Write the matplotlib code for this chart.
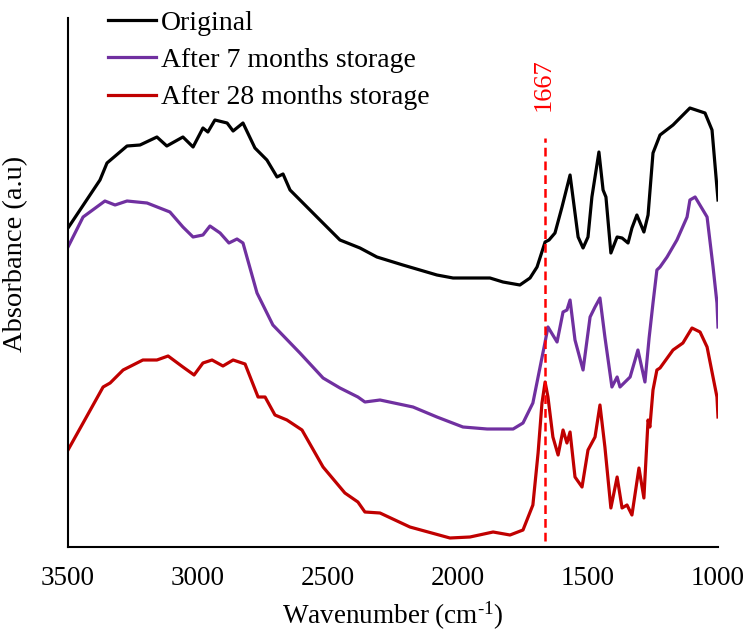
import matplotlib
matplotlib.use("Agg")
import matplotlib.pyplot as plt

plt.rcParams['font.family'] = ['Liberation Serif', 'DejaVu Serif']
plt.rcParams['mathtext.fontset'] = 'custom'
plt.rcParams['mathtext.rm'] = 'Liberation Serif'
plt.rcParams['mathtext.it'] = 'Liberation Serif:italic'

# Wavenumbers (cm-1) and absorbance (a.u.)
wn_orig = [3500,3377,3350,3273,3223,3158,3120,3058,3019,2981,2962,2935,2888,2865,2827,2781,2735,2696,2673,2646,
           2531,2454,2377,2312,2212,2081,2019,1877,1827,1762,1723,1696,1665,1650,1627,1600,1569,1558,1538,1519,
           1500,1485,1458,1442,1431,1412,1388,1369,1346,1331,1312,1285,1269,1250,1223,1173,1154,1108,1050,1023,1000]
abs_orig = [319,367,384,401,402,410,401,410,400,419,415,427,424,416,424,399,387,370,373,357,
            327,307,299,290,282,272,269,269,265,262,269,280,305,307,314,340,372,350,310,299,
            310,350,395,357,350,294,310,309,304,319,332,315,332,394,412,422,427,439,434,417,347]

wn_7m = [3500,3442,3358,3319,3273,3196,3108,3058,3019,2981,2954,2915,2881,2850,2827,2773,2712,2608,2519,2454,
         2385,2358,2300,2173,2081,1981,1888,1788,1750,1712,1665,1654,1619,1596,1581,1569,1550,1519,1492,1473,
         1454,1435,1408,1388,1377,1338,1319,1308,1281,1265,1250,1235,1223,1196,1158,1119,1108,1088,1042,1019,
         1004,1000]
abs_7m = [300,330,346,342,346,344,335,320,310,312,321,314,304,308,304,254,222,194,169,159,
          150,145,147,140,130,120,118,118,124,144,205,220,205,235,237,247,207,177,230,240,
          249,210,160,170,160,170,187,197,165,209,244,277,280,290,307,330,347,350,330,280,
          244,220]

wn_28m = [3500,3442,3365,3338,3288,3212,3158,3115,3058,3015,2981,2946,2904,2865,2819,2769,2742,2704,2658,2600,
          2519,2435,2385,2358,2300,2185,2031,1954,1865,1800,1750,1712,1692,1677,1665,1654,1635,1615,1596,1581,
          1569,1550,1523,1500,1473,1454,1435,1412,1388,1369,1350,1331,1304,1285,1269,1262,1250,1235,1223,1173,
          1135,1100,1069,1042,1004,1000]
abs_28m = [97,124,160,164,177,187,187,191,180,172,184,187,181,187,183,150,150,132,127,117,
           80,54,45,35,34,20,9,10,15,12,17,42,94,144,165,150,110,92,117,104,
           115,70,60,97,110,142,100,39,70,39,42,32,79,49,127,120,157,177,179,197,
           204,219,215,200,150,130]

labels = ['Original', 'After 7 months storage', 'After 28 months storage']
colors = ['#000000', '#7030A0', '#C00000']
marker_wn = 1667
marker_label = '1667'
xticks = [3500, 3000, 2500, 2000, 1500, 1000]

fig = plt.figure(figsize=(7.47, 6.34), dpi=100)
ax = fig.add_axes([68/747, 1-547/634, 650/747, 529/634])

for wn, a, lab, c in zip([wn_orig, wn_7m, wn_28m], [abs_orig, abs_7m, abs_28m], labels, colors):
    ax.plot(wn, a, color=c, lw=2.3, label=lab, solid_joinstyle='round')

ax.vlines(marker_wn, 6, 409, colors='#FF0000', linestyles=(0, (3.5, 2)), lw=1.8)
ax.text(marker_wn + 4, 436, marker_label, color='#FF0000', rotation=90, ha='center', va='bottom', fontsize=19)

ax.set_xlim(3500, 1000)
ax.set_ylim(0, 529)
ax.set_xticks(xticks)
ax.set_xticklabels([str(t) for t in xticks], fontsize=19.5)
ax.tick_params(axis='x', length=0, pad=14)
ax.set_yticks([])
for s in ['top', 'right']:
    ax.spines[s].set_visible(False)
for s in ['left', 'bottom']:
    ax.spines[s].set_linewidth(1.5)

ax.set_xlabel(r'Wavenumber (cm$^{\text{-1}}$)', fontsize=19.5, labelpad=6)
ax.set_ylabel('Absorbance (a.u)', fontsize=20.5)
ax.yaxis.set_label_coords(-0.062, 0.554)

leg = ax.legend(loc='upper left', bbox_to_anchor=(0.045, 1.035), frameon=False, fontsize=20,
                handlelength=1.7, handletextpad=0.2, labelspacing=0.42, borderaxespad=0)

fig.savefig('out.png', dpi=100)
